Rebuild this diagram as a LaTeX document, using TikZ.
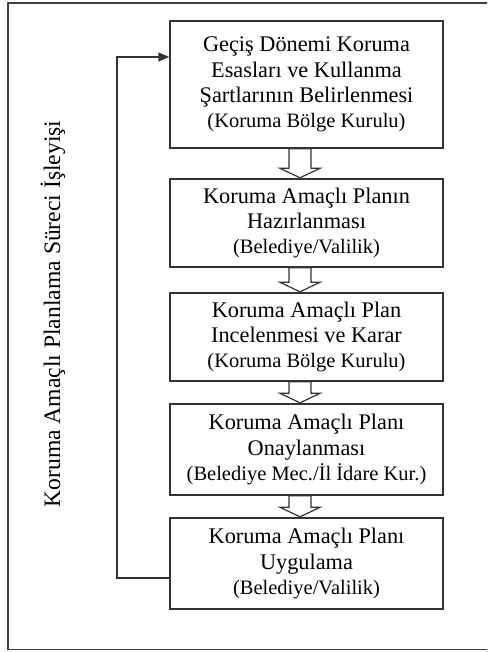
\documentclass[tikz,border=0pt]{standalone}
\usepackage{fontspec}
\setmainfont{Liberation Serif}
\usetikzlibrary{arrows.meta,calc}

\tikzset{
  stepbox/.style={draw=black!80, line width=1.4pt, fill=white, minimum width=273pt,
    align=center, inner sep=0pt, font=\fontsize{22.3}{25.3}\selectfont},
  flowarrow/.style={draw=black!80, line width=1.2pt, fill=white, line join=miter},
  loopline/.style={draw=black!80, line width=1.4pt, -{Triangle[length=11pt,width=9pt]}},
  frame/.style={draw=black!75, line width=1.6pt}
}
% hollow block arrow from the bottom of one box to the top of the next
\newcommand\blockarrow[2]{%
  \path[flowarrow] let \p1=(#1.south), \p2=(#2.north) in
    (\x1-17.5pt,\y1) -- (\x1-17.5pt,\y2+10pt) -- (\x1-26.5pt,\y2+10pt)
    -- (\x1-6.5pt,\y2+0.5pt) -- (\x1+13.5pt,\y2+10pt) -- (\x1+4.5pt,\y2+10pt)
    -- (\x1+4.5pt,\y1) -- cycle;}
\newcommand\sub[1]{{\fontsize{20.5}{25.3}\selectfont #1}}

\begin{document}
\begin{tikzpicture}[x=1pt,y=-1pt]
\useasboundingbox (0,0) rectangle (487,652);
\begin{scope}
\clip (0,0) rectangle (487,652);
\draw[frame] (8,3) rectangle (520,649.5);
\end{scope}

\node[rotate=90, font=\fontsize{23.6}{25}\selectfont] (title) at (53,314)
  {Koruma Amaçlı Planlama Süreci İşleyişi};

\node[stepbox, minimum height=127pt] (a) at (306.5,84.5)
  {Geçiş Dönemi Koruma\\Esasları ve Kullanma\\Şartlarının Belirlenmesi\\\sub{(Koruma Bölge Kurulu)}};
\node[stepbox, minimum height=88pt] (b) at (306.5,223)
  {Koruma Amaçlı Planın\\Hazırlanması\\\sub{(Belediye/Valilik)}};
\node[stepbox, minimum height=88pt] (c) at (306.5,337)
  {Koruma Amaçlı Plan\\Incelenmesi ve Karar\\\sub{(Koruma Bölge Kurulu)}};
\node[stepbox, minimum height=91pt] (d) at (306.5,449.5)
  {Koruma Amaçlı Planı\\Onaylanması\\\sub{(Belediye Mec./İl İdare Kur.)}};
\node[stepbox, minimum height=91pt] (e) at (306.5,563.5)
  {Koruma Amaçlı Planı\\Uygulama\\\sub{(Belediye/Valilik)}};

\blockarrow{a}{b}
\blockarrow{b}{c}
\blockarrow{c}{d}
\blockarrow{d}{e}

\coordinate (turn) at (117,57);
\draw[loopline] ([yshift=-14.5pt]e.west) -| (turn) -- ([yshift=27.5pt]a.west);
\end{tikzpicture}
\end{document}
